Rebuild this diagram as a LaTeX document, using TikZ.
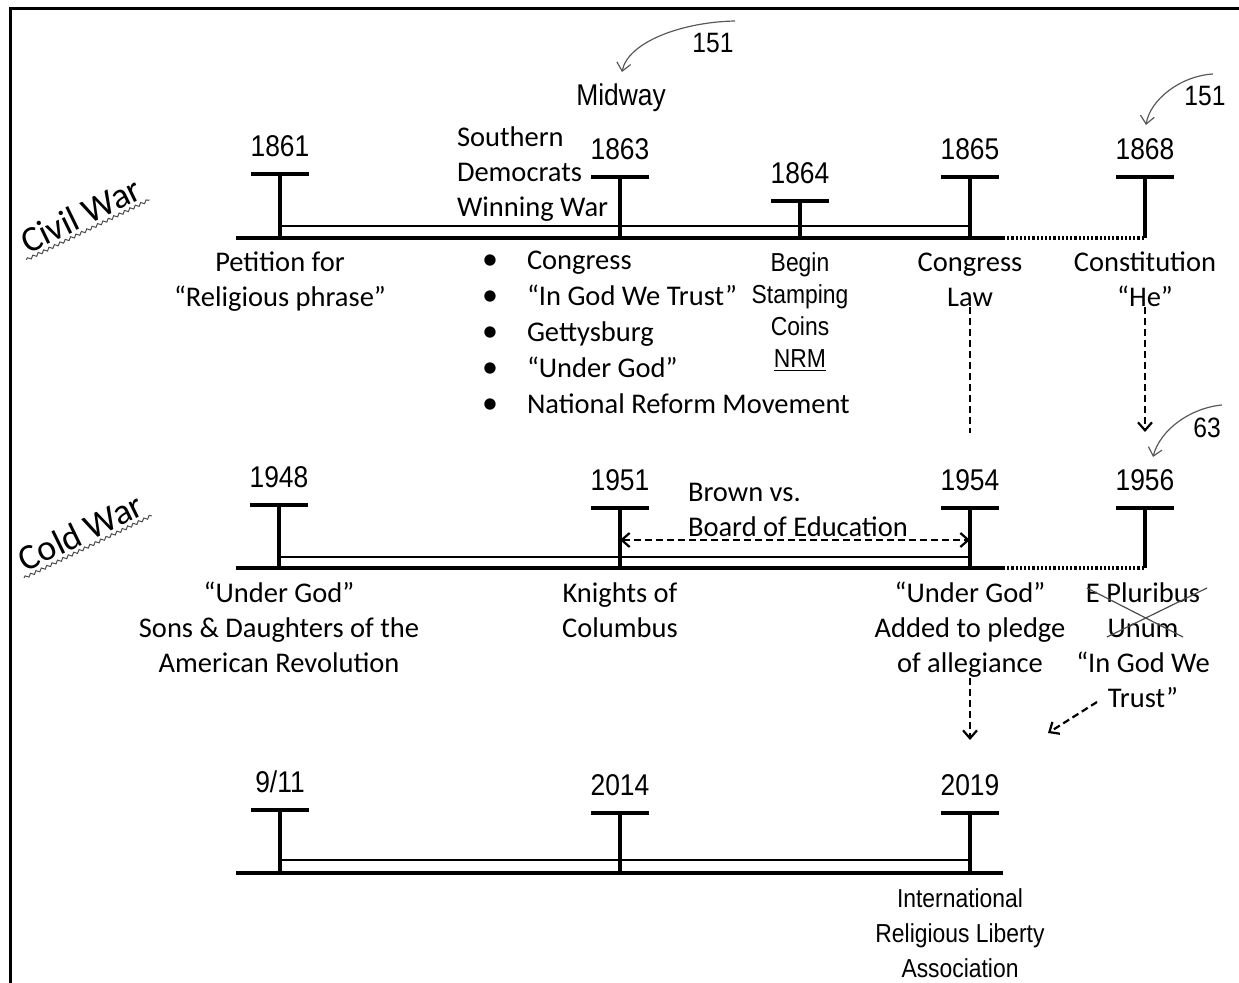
\documentclass[tikz,border=0pt]{standalone}
\usepackage{fontspec}
\setmainfont{Carlito}
\newfontfamily\narrowfont[FakeStretch=0.88]{Liberation Sans}
\usetikzlibrary{arrows.meta,decorations.pathmorphing,calc}
\newcommand{\YTick}[5]{%
  \coordinate (#1top) at (#2,#3);
  \coordinate (#1) at (#2,#4);
  \draw[stemln] (#1top) -- (#1);
  \draw[barln] ($(#1top)+(-29,0)$) -- ($(#1top)+(29,0)$);
  \node[year] (#1lbl) at (#2,#3-17) {#5};
}
\tikzset{
  every node/.style={inner sep=0pt, outer sep=0pt},
  cal/.style={font=\fontsize{14.25}{17.5}\selectfont, align=center, anchor=north},
  calb/.style={font=\fontsize{14.25}{18}\selectfont, align=left, anchor=north west},
  year/.style={font=\narrowfont\fontsize{15}{18}\selectfont, anchor=base},
  numlbl/.style={font=\narrowfont\fontsize{14}{17}\selectfont, anchor=base},
  narrowlbl/.style={font=\narrowfont\fontsize{13}{16}\selectfont, align=center, anchor=north},
  warlbl/.style={font=\fontsize{18}{21}\selectfont, rotate=26, anchor=base, inner sep=2pt},
  baseln/.style={line width=2pt},
  thinln/.style={line width=1pt},
  stemln/.style={line width=1.75pt},
  barln/.style={line width=2pt},
  dotln/.style={line width=1.6pt, dash pattern=on 1.1pt off 1pt},
  dashln/.style={line width=1.1pt, dash pattern=on 3.5pt off 2pt},
  dasharr/.style={dashln, -{Straight Barb[length=4pt,width=7pt]}},
  dashdbl/.style={dashln, {Straight Barb[length=4pt,width=7pt]}-{Straight Barb[length=4pt,width=7pt]}},
  curvarr/.style={line width=0.6pt, draw=black!65, -{Straight Barb[length=4pt,width=7pt]}},
  squig/.style={decorate, decoration={snake, amplitude=0.7pt, segment length=3pt}, line width=0.5pt, draw=black!70},
  crossln/.style={line width=0.6pt, draw=black!70},
  frameln/.style={line width=1.5pt}
}
\begin{document}
\begin{tikzpicture}[x=0.5pt,y=-0.5pt]
\useasboundingbox (0,0) rectangle (1239,983);
% frame
\draw[frameln] (10,983) -- (10,9) -- (1239,9);

% ---------------- Civil War ----------------
\node[warlbl] (civil) at (86,226) {Civil War};
\draw[squig] (civil.south west) -- (civil.south east);
\coordinate (cwL) at (236,238);
\coordinate (cwR) at (1003,238);
\draw[baseln] (cwL) -- (cwR);
\draw[thinln] (280,226) -- (970,226);
\YTick{t1861}{280}{174}{238}{1861}
\YTick{t1863}{620}{177}{238}{1863}
\YTick{t1864}{800}{201}{238}{1864}
\YTick{t1865}{970}{177}{238}{1865}
\YTick{t1868}{1145}{177}{238}{1868}
\draw[dotln] (cwR) -- (t1868);

\node[numlbl, font=\narrowfont\fontsize{15}{18}\selectfont] (midway) at (621,106) {Midway};
\node[numlbl] (n151a) at (713,53) {151};
\node[numlbl] (n151b) at (1205,106) {151};
\coordinate (a1s) at (735,21);
\coordinate (a1e) at (622,72);
\draw[curvarr] (a1s) .. controls (682,22) and (628,42) .. (a1e);
\coordinate (a2s) at (1213,74);
\coordinate (a2e) at (1146,125);
\draw[curvarr] (a2s) .. controls (1180,76) and (1150,100) .. (a2e);

\node[calb, font=\fontsize{14.25}{17.5}\selectfont] (southern) at (457,122.5) {\strut Southern\\Democrats\\Winning War};
\node[cal] (petition) at (280,247.5) {\strut Petition for\\“Religious phrase”};
\node[calb, anchor=north, font=\fontsize{16}{18}\selectfont] (bullets) at (490,244.8) {\strut •\\•\\•\\•\\•};
\node[calb] (items) at (527,244.8) {\strut Congress\\“In God We Trust”\\Gettysburg\\“Under God”\\National Reform Movement};
\node[narrowlbl] (begin) at (800,249.6) {\strut Begin\\Stamping\\Coins\\\underline{NRM}};
\node[cal] (congress) at (970,247.5) {\strut Congress\\Law};
\node[cal] (constitution) at (1145,247.5) {\strut Constitution\\“He”};

\coordinate (lawEnd) at (970,433);
\draw[dashln] (congress.south) -- (lawEnd);
\coordinate (heEnd) at (1145,432);
\draw[dasharr] (constitution.south) -- (heEnd);

% ---------------- Cold War ----------------
\node[warlbl] (cold) at (86,543) {Cold War};
\draw[squig] (cold.south west) -- (cold.south east);
\coordinate (cdL) at (236,568);
\coordinate (cdR) at (1003,568);
\draw[baseln] (cdL) -- (cdR);
\draw[thinln] (279,557) -- (970,557);
\YTick{t1948}{279}{505}{568}{1948}
\YTick{t1951}{620}{508}{568}{1951}
\YTick{t1954}{970}{508}{568}{1954}
\YTick{t1956}{1145}{508}{568}{1956}
\draw[dotln] (cdR) -- (t1956);

\node[numlbl] (n63) at (1207,438) {63};
\coordinate (a3s) at (1222,405);
\coordinate (a3e) at (1153,457);
\draw[curvarr] (a3s) .. controls (1190,408) and (1160,430) .. (a3e);

\node[calb, font=\fontsize{14.25}{17.5}\selectfont] (brown) at (688,477.5) {\strut Brown vs.\\Board of Education};
\coordinate (bL) at (620,540);
\coordinate (bR) at (970,540);
\draw[dashdbl] (bL) -- (bR);

\node[cal] (ug1948) at (279,578.5) {\strut “Under God”\\Sons \& Daughters of the\\American Revolution};
\node[cal] (knights) at (620,578.5) {\strut Knights of\\Columbus};
\node[cal] (ug1954) at (970,578.5) {\strut “Under God”\\Added to pledge\\of allegiance};
\node[cal] (coin) at (1143,578.5) {\strut E Pluribus\\Unum\\“In God We\\Trust”};
\draw[crossln] (1087,588) -- (1183,637);
\draw[crossln] (1107,637) -- (1207,588);

\coordinate (ugEnd) at (970,740);
\draw[dasharr] (ug1954.south) -- (ugEnd);
\coordinate (trS) at (1097,702);
\coordinate (trE) at (1048,733);
\draw[dasharr] (trS) -- (trE);

% ---------------- Bottom ----------------
\coordinate (bmL) at (236,873);
\coordinate (bmR) at (1003,873);
\draw[baseln] (bmL) -- (bmR);
\draw[thinln] (280,860) -- (970,860);
\YTick{t911}{280}{810}{873}{9/11}
\YTick{t2014}{620}{813}{873}{2014}
\YTick{t2019}{970}{813}{873}{2019}
\node[narrowlbl, font=\narrowfont\fontsize{13}{17.5}\selectfont] (irla) at (960,883.5) {\strut International\\Religious Liberty\\Association};
\end{tikzpicture}
\end{document}
